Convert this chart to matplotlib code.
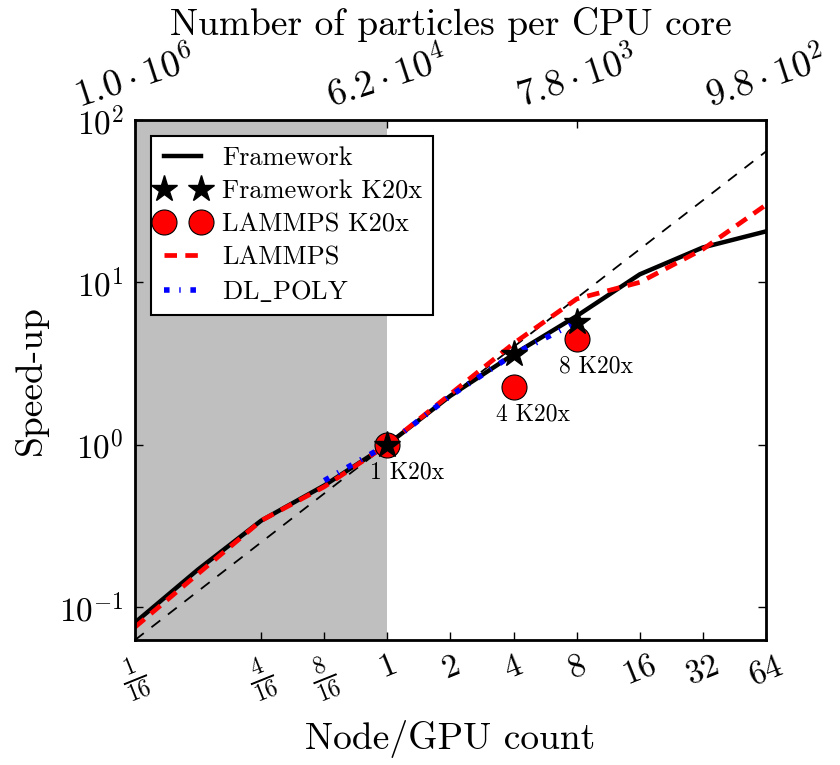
import matplotlib
matplotlib.use("Agg")
import matplotlib.pyplot as plt
from matplotlib.lines import Line2D
from matplotlib.legend_handler import HandlerLine2D
from matplotlib.ticker import FixedLocator, FixedFormatter, NullLocator

plt.rcParams['font.family'] = 'cmr10'
plt.rcParams['mathtext.fontset'] = 'cm'
plt.rcParams['axes.unicode_minus'] = False
plt.rcParams['axes.formatter.use_mathtext'] = True
plt.rcParams['lines.scale_dashes'] = False

# strong scaling data
nodes = [1/16, 1/8, 1/4, 1/2, 1, 2, 4, 8, 16, 32, 64]
framework = [0.08, 0.17, 0.34, 0.56, 1.0, 2.0, 3.6, 6.2, 11.2, 16.4, 20.6]
lammps = [0.075, 0.16, 0.34, 0.55, 1.0, 2.05, 4.2, 7.9, 10.0, 16.0, 30.0]
dlpoly_nodes = [1/2, 1, 2, 4, 8]
dlpoly = [0.6, 1.0, 2.0, 3.6, 5.7]
gpus = [1, 4, 8]
framework_gpu = [1.0, 3.6, 5.7]
lammps_gpu = [1.0, 2.27, 4.47]
gpu_labels = ["1 K20x", "4 K20x", "8 K20x"]

bottom_ticks = [1/16, 4/16, 8/16, 1, 2, 4, 8, 16, 32, 64]
bottom_labels = [r"$\frac{1}{16}$", r"$\frac{4}{16}$", r"$\frac{8}{16}$", "$1$", "$2$",
                 "$4$", "$8$", "$16$", "$32$", "$64$"]
top_ticks = [1/16, 1, 8, 64]
top_labels = [r"$1.0\cdot10^{6}$", r"$6.2\cdot10^{4}$", r"$7.8\cdot10^{3}$", r"$9.8\cdot10^{2}$"]
y_ticks = [0.1, 1, 10, 100]
y_labels = [r"$10^{-1}$", r"$10^{0}$", r"$10^{1}$", r"$10^{2}$"]

fig = plt.figure(figsize=(8.4, 7.65), dpi=100)
ax = fig.add_axes([0.1607, 0.1634, 0.7512, 0.6797])

ax.axvspan(1/16, 1, color='0.75', lw=0, zorder=0)
ax.plot(nodes, nodes, color='k', lw=1.3, dashes=(8, 7))
ax.plot(nodes, framework, color='k', lw=3.2, label='Framework')
ax.plot(gpus, framework_gpu, ls='none', marker='*', ms=20, color='k', zorder=5,
        label='Framework K20x')
ax.plot(gpus, lammps_gpu, ls='none', marker='o', ms=18, mfc='r', mec='k', mew=0.8,
        zorder=4, label='LAMMPS K20x')
ax.plot(nodes, lammps, color='r', lw=3.4, dashes=(9, 6), label='LAMMPS')
ax.plot(dlpoly_nodes, dlpoly, color='b', lw=4, dashes=(4, 7, 1, 7), label=r'$\mathrm{DL\_POLY}$')

for g, v, t in zip(gpus, lammps_gpu, gpu_labels):
    ax.annotate(t, (g, v), xytext=(14, -20), textcoords='offset points',
                ha='center', va='center', fontsize=17)

ax.set_xscale('log', base=2)
ax.set_yscale('log')
ax.set_xlim(1/16, 64)
ax.set_ylim(1/16, 100)
ax.xaxis.set_major_locator(FixedLocator(bottom_ticks))
ax.xaxis.set_major_formatter(FixedFormatter(bottom_labels))
ax.xaxis.set_minor_locator(NullLocator())
ax.yaxis.set_major_locator(FixedLocator(y_ticks))
ax.yaxis.set_major_formatter(FixedFormatter(y_labels))
ax.yaxis.set_minor_locator(NullLocator())
ax.tick_params(axis='x', direction='in', length=6, width=1, labelsize=24,
               labelrotation=22, pad=8)
ax.tick_params(axis='y', direction='in', length=6, width=1, labelsize=24,
               right=True, pad=8)
for s in ax.spines.values():
    s.set_linewidth(2)

ax.set_xlabel('Node/GPU count', fontsize=27, labelpad=10)
ax.set_ylabel('Speed-up', fontsize=27, labelpad=8)

top = ax.twiny()
top.set_xscale('log', base=2)
top.set_xlim(ax.get_xlim())
top.xaxis.set_major_locator(FixedLocator(top_ticks))
top.xaxis.set_major_formatter(FixedFormatter(top_labels))
top.xaxis.set_minor_locator(NullLocator())
top.tick_params(axis='x', direction='in', length=6, width=1, labelsize=27,
                labelrotation=18, pad=4)
top.set_xlabel('Number of particles per CPU core', fontsize=27, labelpad=4)

leg = ax.legend(loc='upper left', fontsize=19, numpoints=2, fancybox=False,
                framealpha=1, edgecolor='k', borderaxespad=0.6, handlelength=1.6,
                labelspacing=0.35, handletextpad=0.7,
                handler_map={Line2D: HandlerLine2D(marker_pad=0.1)})
leg.get_frame().set_linewidth(1.5)

fig.savefig('out.png', dpi=100)
